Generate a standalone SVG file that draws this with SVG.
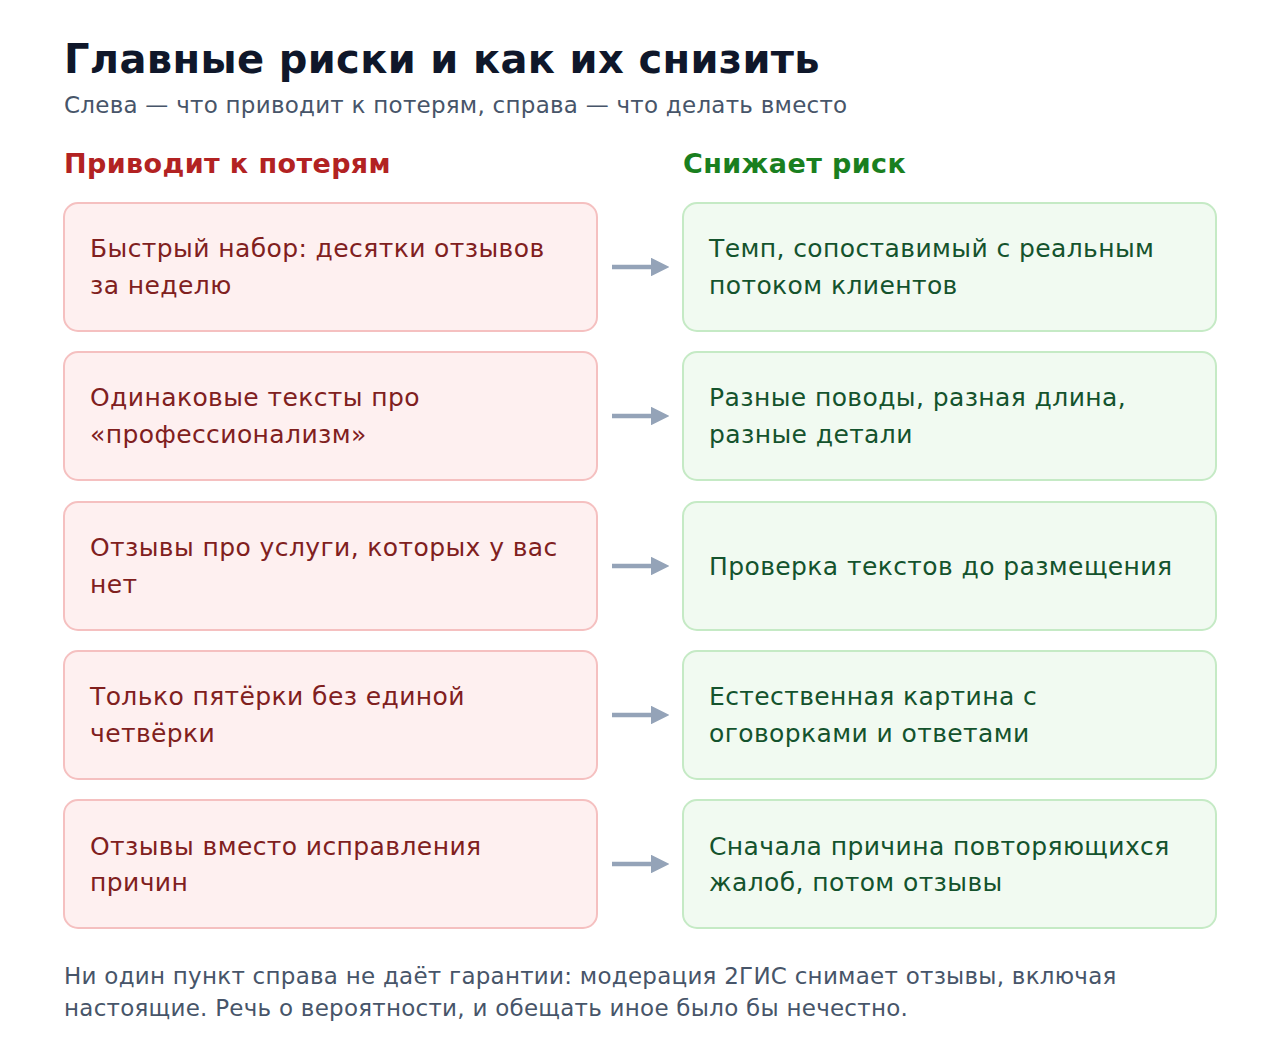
<svg xmlns="http://www.w3.org/2000/svg" width="1280" height="1046" viewBox="0 0 1280 1046">
<defs>
<style>
text{font-family:"DejaVu Sans","Noto Sans",sans-serif}
.title{font-size:40px;font-weight:bold;fill:#0f172a;letter-spacing:0.35px}
.sub{font-size:23px;fill:#475569;letter-spacing:0.25px}
.hbad{font-size:27px;font-weight:bold;fill:#b22222;letter-spacing:0.4px}
.hgood{font-size:27px;font-weight:bold;fill:#1a7f1f;letter-spacing:0.4px}
.bad rect{fill:#fef0f0;stroke:#f5c0c0;stroke-width:2}
.good rect{fill:#f1faf1;stroke:#c5eac5;stroke-width:2}
.bad text{font-size:25px;fill:#80201e;letter-spacing:0.4px}
.good text{font-size:25px;fill:#14532d;letter-spacing:0.4px}
.conn line{stroke:#94a3b8;stroke-width:4.4}
.foot{font-size:23px;fill:#475569;letter-spacing:0.25px}
</style>
<marker id="ah" markerWidth="4.2" markerHeight="4.2" refX="0" refY="2.1" orient="auto" markerUnits="strokeWidth" viewBox="0 0 4.2 4.2">
<path d="M0,0 L4.2,2.1 L0,4.2 Z" fill="#94a3b8"/>
</marker>
</defs>
<rect width="1280" height="1046" fill="#ffffff"/>
<text class="title" x="64" y="73">Главные риски и как их снизить</text>
<text class="sub" x="64" y="113">Слева — что приводит к потерям, справа — что делать вместо</text>
<text class="hbad" x="64" y="173">Приводит к потерям</text>
<text class="hgood" x="683" y="173">Снижает риск</text>

<g id="bad1" class="bad"><rect x="64" y="203" width="533" height="128" rx="14"/><text x="90" y="257">Быстрый набор: десятки отзывов</text><text x="90" y="294">за неделю</text></g>
<g id="good1" class="good"><rect x="683" y="203" width="533" height="128" rx="14"/><text x="709" y="257">Темп, сопоставимый с реальным</text><text x="709" y="294">потоком клиентов</text></g>

<g id="bad2" class="bad"><rect x="64" y="352" width="533" height="128" rx="14"/><text x="90" y="406">Одинаковые тексты про</text><text x="90" y="443">«профессионализм»</text></g>
<g id="good2" class="good"><rect x="683" y="352" width="533" height="128" rx="14"/><text x="709" y="406">Разные поводы, разная длина,</text><text x="709" y="443">разные детали</text></g>

<g id="bad3" class="bad"><rect x="64" y="502" width="533" height="128" rx="14"/><text x="90" y="556">Отзывы про услуги, которых у вас</text><text x="90" y="593">нет</text></g>
<g id="good3" class="good"><rect x="683" y="502" width="533" height="128" rx="14"/><text x="709" y="575">Проверка текстов до размещения</text></g>

<g id="bad4" class="bad"><rect x="64" y="651" width="533" height="128" rx="14"/><text x="90" y="705">Только пятёрки без единой</text><text x="90" y="742">четвёрки</text></g>
<g id="good4" class="good"><rect x="683" y="651" width="533" height="128" rx="14"/><text x="709" y="705">Естественная картина с</text><text x="709" y="742">оговорками и ответами</text></g>

<g id="bad5" class="bad"><rect x="64" y="800" width="533" height="128" rx="14"/><text x="90" y="855">Отзывы вместо исправления</text><text x="90" y="891">причин</text></g>
<g id="good5" class="good"><rect x="683" y="800" width="533" height="128" rx="14"/><text x="709" y="855">Сначала причина повторяющихся</text><text x="709" y="891">жалоб, потом отзывы</text></g>

<g id="connectors" class="conn">
<line x1="612" y1="267" x2="651" y2="267" marker-end="url(#ah)"/>
<line x1="612" y1="416" x2="651" y2="416" marker-end="url(#ah)"/>
<line x1="612" y1="566" x2="651" y2="566" marker-end="url(#ah)"/>
<line x1="612" y1="715" x2="651" y2="715" marker-end="url(#ah)"/>
<line x1="612" y1="864" x2="651" y2="864" marker-end="url(#ah)"/>
</g>

<text class="foot" x="64" y="984">Ни один пункт справа не даёт гарантии: модерация 2ГИС снимает отзывы, включая</text>
<text class="foot" x="64" y="1016">настоящие. Речь о вероятности, и обещать иное было бы нечестно.</text>
</svg>
